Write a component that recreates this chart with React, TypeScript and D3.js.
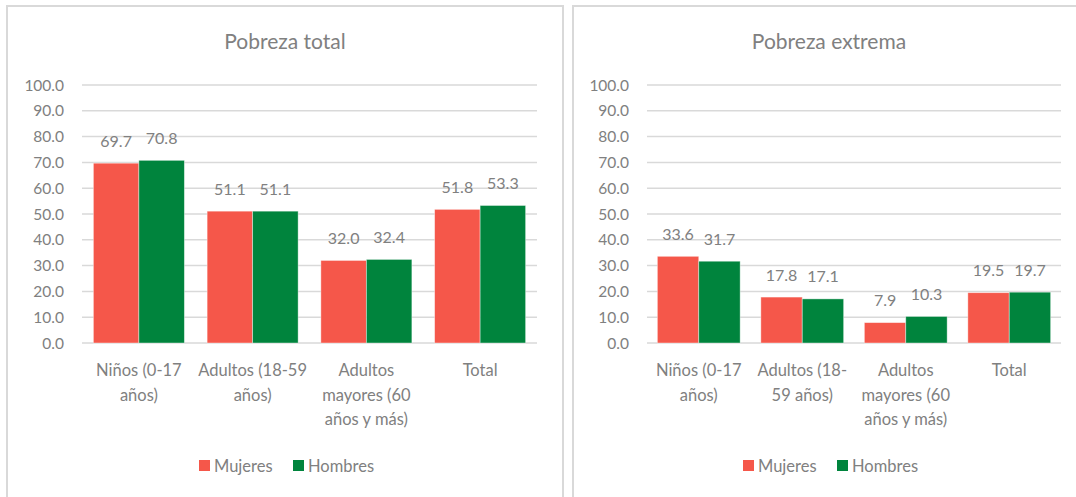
import React from "react";
import * as d3 from "d3";

const categoriesTotal: string[][] = [
  ["Niños (0-17", "años)"],
  ["Adultos (18-59", "años)"],
  ["Adultos", "mayores (60", "años y más)"],
  ["Total"],
];
const categoriesExtrema: string[][] = [
  ["Niños (0-17", "años)"],
  ["Adultos (18-", "59 años)"],
  ["Adultos", "mayores (60", "años y más)"],
  ["Total"],
];
const mujeresTotal = [69.7, 51.1, 32.0, 51.8];
const hombresTotal = [70.8, 51.1, 32.4, 53.3];
const mujeresExtrema = [33.6, 17.8, 7.9, 19.5];
const hombresExtrema = [31.7, 17.1, 10.3, 19.7];
const yTicks = [0, 10, 20, 30, 40, 50, 60, 70, 80, 90, 100];
const seriesNames = ["Mujeres", "Hombres"];
const colors = ["#F5574A", "#00843D"];

const FONT = "Lato, 'Open Sans', sans-serif";
const TEXT = "#808080";
const GRID = "#d9d9d9";

type PanelProps = {
  title: string;
  titleX: number;
  cats: string[][];
  m: number[];
  h: number[];
  x0: number;
  x1: number;
  legendX: number;
};

function Panel({ title, titleX, cats, m, h, x0, x1, legendX }: PanelProps) {
  const y = d3.scaleLinear().domain([0, 100]).range([343, 85]);
  const xb = d3
    .scaleBand<number>()
    .domain(cats.map((_, i) => i))
    .range([x0, x1])
    .paddingInner(0.2)
    .paddingOuter(0.1);
  const xs = d3.scaleBand<number>().domain([0, 1]).range([0, xb.bandwidth()]);
  const series = [m, h];
  return (
    <g>
      <text x={titleX} y={49} textAnchor="middle" fontSize={21} fill={TEXT} fontFamily={FONT}>
        {title}
      </text>
      {yTicks.map((t) => (
        <g key={t}>
          <line x1={x0} x2={x1} y1={y(t)} y2={y(t)} stroke={GRID} strokeWidth={1.5} />
          <text x={x0 - 18} y={y(t) + 5.5} textAnchor="end" fontSize={15.5} fill={TEXT} fontFamily={FONT}>
            {t.toFixed(1)}
          </text>
        </g>
      ))}
      {series.map((vals, s) =>
        vals.map((v, i) => {
          const bx = (xb(i) as number) + (xs(s) as number);
          return (
            <g key={`${s}-${i}`}>
              <rect
                x={bx}
                y={y(v)}
                width={xs.bandwidth()}
                height={y(0) - y(v)}
                fill={colors[s]}
                stroke="#ffffff"
                strokeOpacity={0.5}
                strokeWidth={0.8}
              />
              <text
                x={bx + xs.bandwidth() / 2}
                y={y(v) - 16.5}
                textAnchor="middle"
                fontSize={16}
                fill={TEXT}
                fontFamily={FONT}
              >
                {v.toFixed(1)}
              </text>
            </g>
          );
        })
      )}
      {cats.map((lines, i) => (
        <text
          key={i}
          x={(xb(i) as number) + xb.bandwidth() / 2}
          textAnchor="middle"
          fontSize={16.5}
          fill={TEXT}
          fontFamily={FONT}
        >
          {lines.map((l, k) => (
            <tspan key={k} x={(xb(i) as number) + xb.bandwidth() / 2} y={376 + k * 24.5}>
              {l}
            </tspan>
          ))}
        </text>
      ))}
      {seriesNames.map((n, s) => (
        <g key={n} transform={`translate(${legendX + s * 94},0)`}>
          <rect x={0} y={460} width={11} height={11} fill={colors[s]} />
          <text x={15} y={471.5} fontSize={16.5} fill={TEXT} fontFamily={FONT}>
            {n}
          </text>
        </g>
      ))}
    </g>
  );
}

export default function App() {
  return (
    <svg
      width={1076}
      height={497}
      style={{ position: "absolute", left: 0, top: 0, background: "#fff" }}
    >
      <rect x={0} y={0} width={1076} height={497} fill="#ffffff" />
      <path d="M7,497 V6 H563 V497" fill="none" stroke={GRID} strokeWidth={2} />
      <path d="M573,497 V6 H1076" fill="none" stroke={GRID} strokeWidth={2} />
      <Panel
        title="Pobreza total"
        titleX={285}
        cats={categoriesTotal}
        m={mujeresTotal}
        h={hombresTotal}
        x0={82}
        x1={537}
        legendX={199}
      />
      <Panel
        title="Pobreza extrema"
        titleX={829}
        cats={categoriesExtrema}
        m={mujeresExtrema}
        h={hombresExtrema}
        x0={647}
        x1={1061}
        legendX={743}
      />
    </svg>
  );
}
